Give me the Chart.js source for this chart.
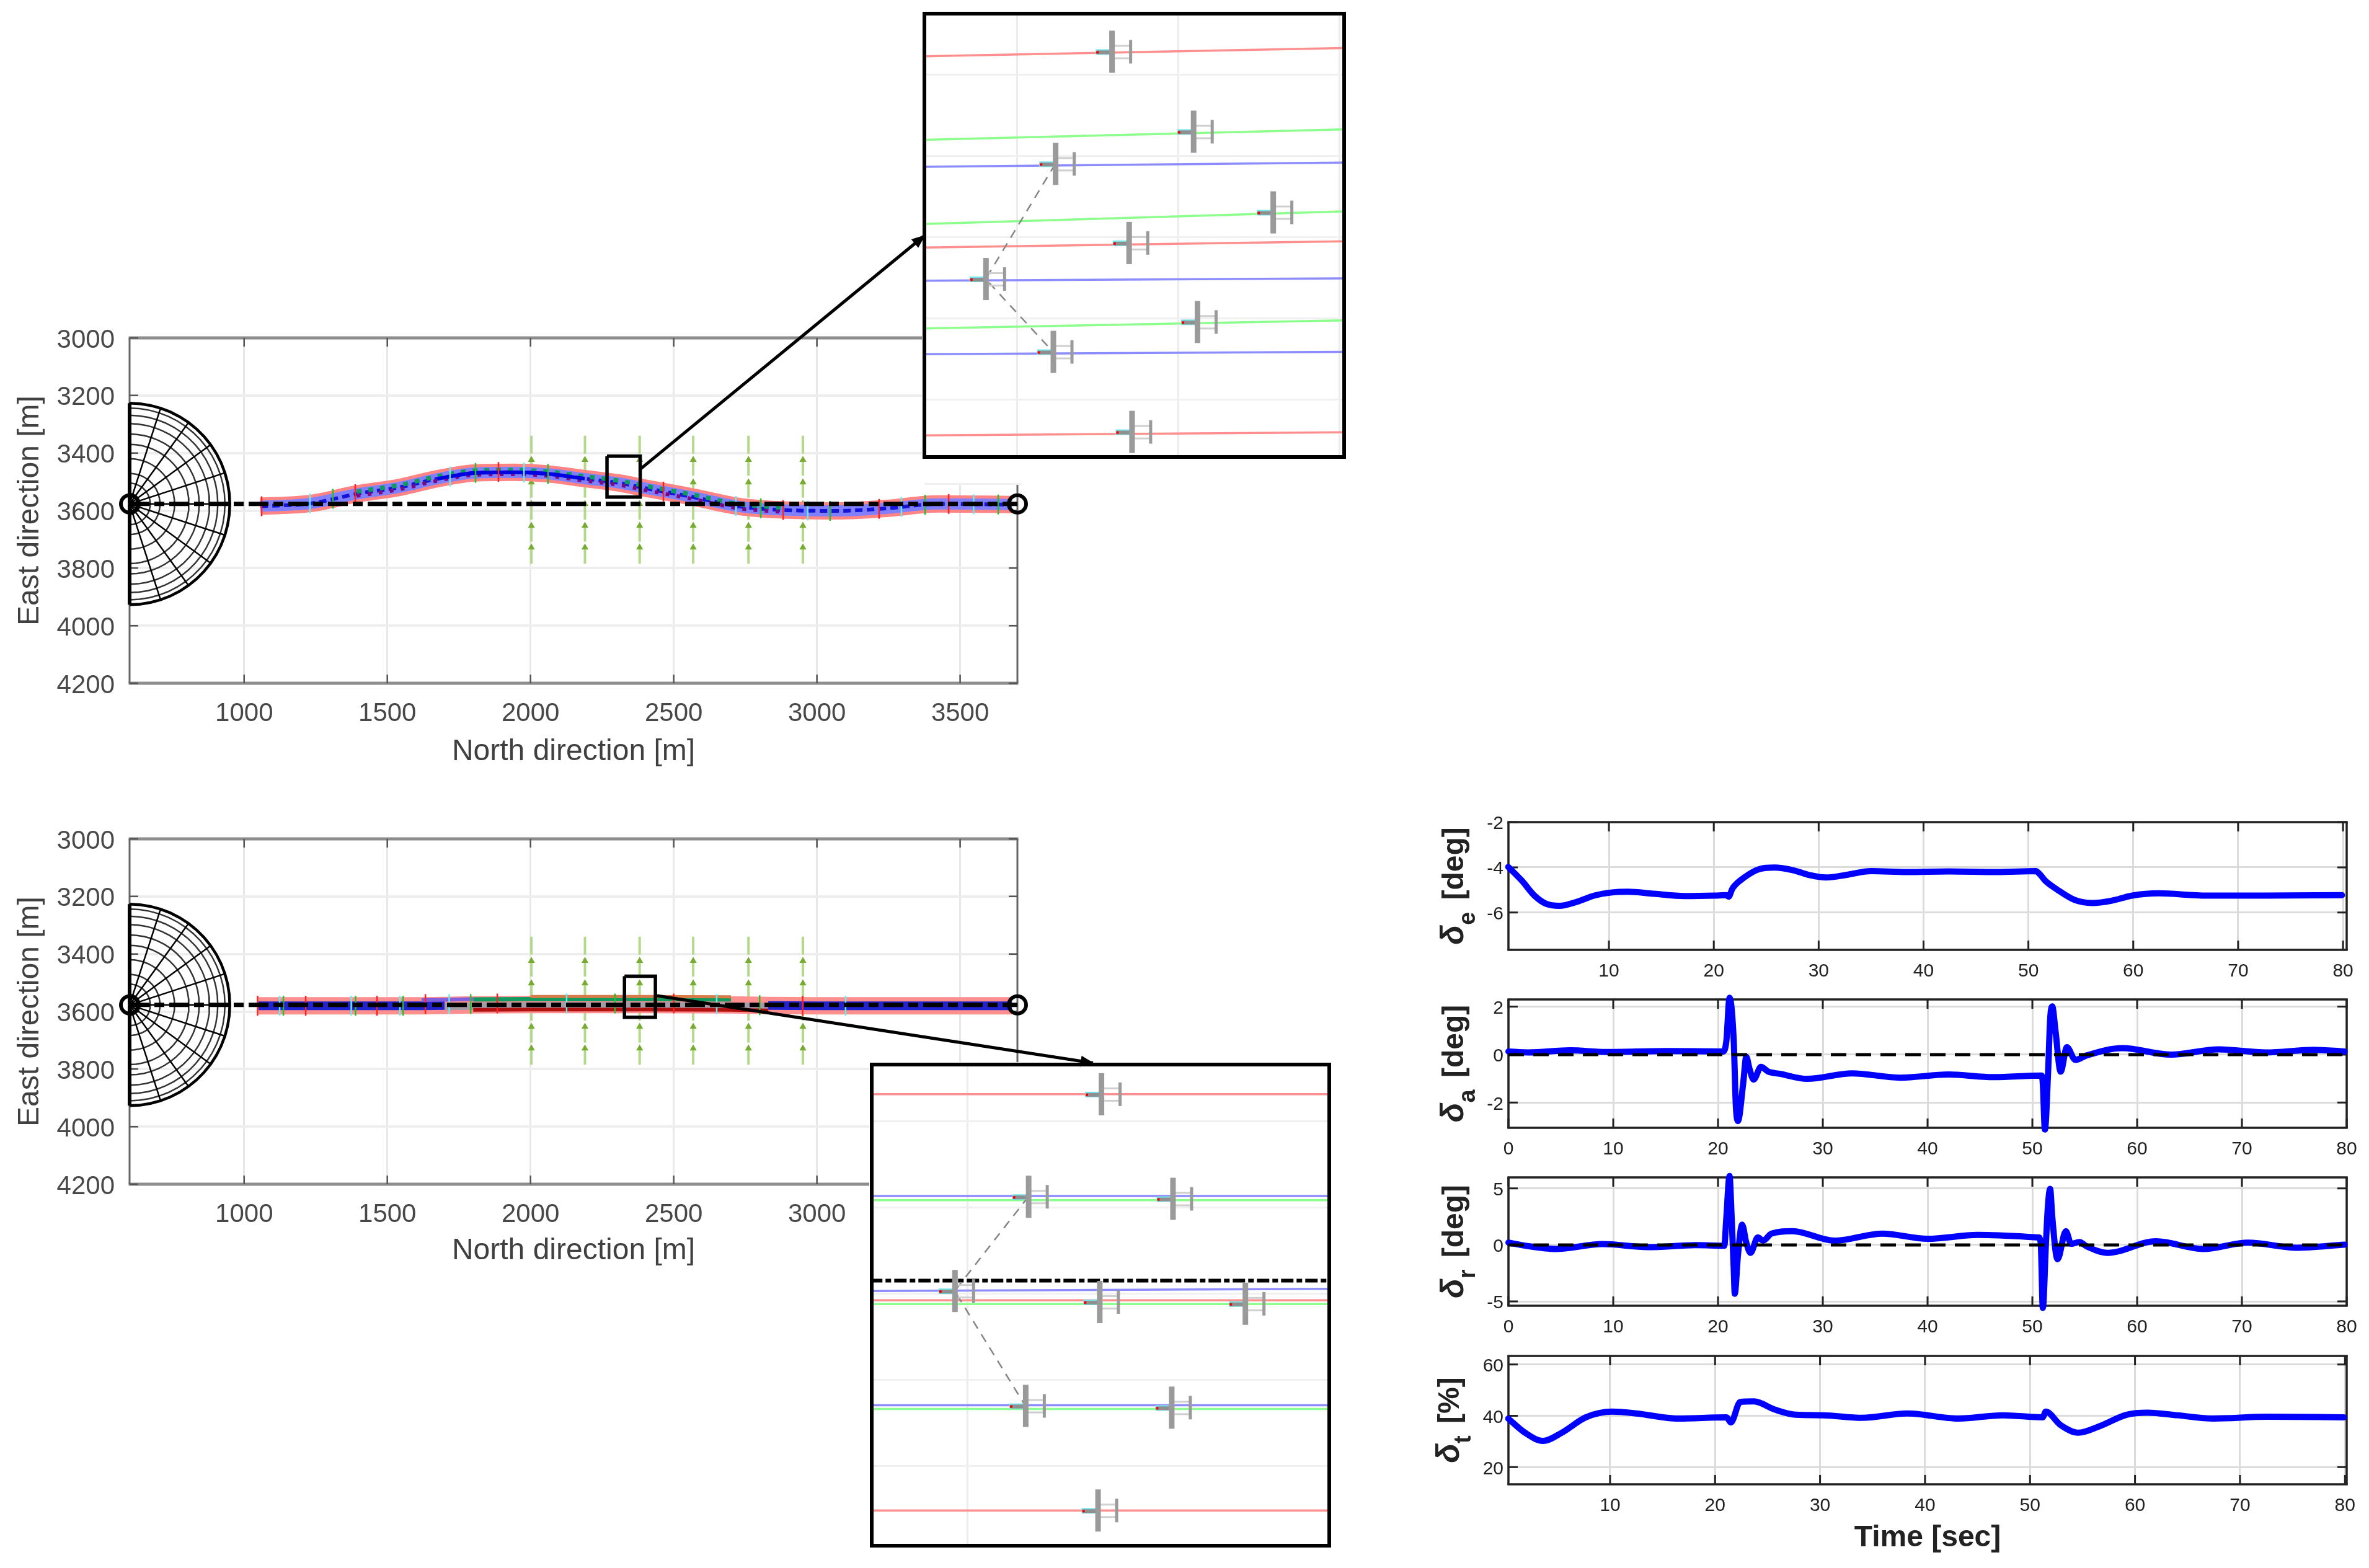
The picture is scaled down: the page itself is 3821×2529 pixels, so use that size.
<!DOCTYPE html>
<html>
<head>
<meta charset="utf-8">
<title>Formation flight</title>
<script src="https://cdn.jsdelivr.net/npm/chart.js@4"></script>
<style>
  html, body { margin: 0; background: #fff; overflow: hidden; }
  body { position: relative; width: 3821px; height: 2529px; }
  canvas, .patch { position: absolute; }
</style>
</head>
<body>
<script>
// map plots
const northTicks = [1000, 1500, 2000, 2500, 3000, 3500];
const eastTicks = [3000, 3200, 3400, 3600, 3800, 4000, 4200];
const lineOfSightNorth = [600, 3700];
const lineOfSightEast = [3577, 3577];
const windNorth = [2003, 2190, 2381, 2568, 2761, 2951];
const windEast = [3340, 3424, 3502, 3577, 3653, 3728, 3790];
const radarRadii = [36, 72, 106, 157, 207, 243, 279, 308, 333, 350];
const radarSpokes = [-90, -72, -54, -36, -18, 0, 18, 36, 54, 72, 90];
const radarSweep = [-90, -84, -78, -72, -66, -60, -54, -48, -42, -36, -30, -24, -18, -12, -6, 0, 6, 12, 18, 24, 30, 36, 42, 48, 54, 60, 66, 72, 78, 84, 90];

// path with the avoidance manoeuvre
const curvedNorth = [1057, 1234, 1393, 1544, 1676, 1808, 1941, 2056, 2189, 2321, 2395, 2568, 2724, 2882, 3072, 3248, 3421, 3681];
const curvedEast = [3585, 3575, 3542, 3519, 3489, 3469, 3467, 3472, 3489, 3506, 3521, 3553, 3585, 3598, 3601, 3592, 3577, 3579];
const curvedMarkNorth = [1061, 1230, 1310, 1388, 1719, 1808, 1888, 1977, 2061, 2464, 2717, 2804, 2882, 2968, 3046, 3217, 3295, 3378, 3460, 3547, 3633];
const curvedMarkEast = [3585, 3575, 3559, 3543, 3482, 3469, 3466, 3468, 3473, 3534, 3584, 3592, 3598, 3600, 3601, 3594, 3587, 3580, 3577, 3578, 3579];
const zoomBoxTopNorth = [2267, 2383, 2383, 2267, 2267];
const zoomBoxTopEast = [3411, 3411, 3553, 3553, 3411];
const arrowTopNorth = [2382, 3375];
const arrowTopEast = [3457, 2645];

// path with the formation change only
const straightNorth = [1050, 1620, 1700, 1800, 2000, 2400, 2700, 2830, 3000, 3200, 3681];
const straightEast = [3580, 3580, 3579, 3577, 3576, 3576, 3577, 3579, 3580, 3580, 3580];
const straightMarkNorth = [1047, 1124, 1137, 1215, 1374, 1389, 1464, 1544, 1555, 1633, 1716, 1791, 1884, 2126, 2295, 2500, 2650, 2800, 2950, 3100];
const straightMarkEast = [3580, 3580, 3580, 3580, 3580, 3580, 3580, 3580, 3580, 3574, 3574, 3574, 3572, 3572, 3572, 3572, 3574, 3578, 3580, 3580];
const zoomBoxBottomNorth = [2328, 2436, 2436, 2328, 2328];
const zoomBoxBottomEast = [3477, 3477, 3620, 3620, 3477];
const arrowBottomNorth = [2442, 3964];
const arrowBottomEast = [3545, 3779];

// zoomed views
const inset1North = [2271, 2401];
const inset1Red = [[3419.4, 3416.9], [3478.2, 3476.3], [3536, 3535]];
const inset1Green = [[3445.1, 3441.9], [3471, 3467.1], [3503.1, 3500.6]];
const inset1Blue = [[3453.4, 3452.1], [3488.4, 3487.7], [3511, 3510.3]];
const inset1PlaneNorth = [2329.4, 2354.7, 2311.9, 2379.4, 2334.7, 2290.3, 2355.9, 2311.2, 2335.6];
const inset1PlaneEast = [3418, 3442.6, 3452.5, 3467.4, 3476.8, 3487.9, 3501.1, 3510.3, 3534.9];
const inset1LinkNorth = [2311.9, 2290.3, 2311.2];
const inset1LinkEast = [3452.5, 3487.9, 3510.3];
const inset1XTicks = [2300, 2350, 2400];
const inset1YTicks = [3425, 3450, 3475, 3500, 3525];

const inset2North = [2327, 2436];
const inset2Red = [[3492.2, 3492.2], [3551.9, 3551.9], [3612.8, 3612.8]];
const inset2Green = [[3522.9, 3522.9], [3553, 3553], [3583.4, 3583.4]];
const inset2Blue = [[3521.7, 3521.7], [3549.2, 3548.6], [3582.3, 3582.3]];
const inset2PlaneNorth = [2381.6, 2364.4, 2398.5, 2347, 2381.2, 2415.6, 2363.7, 2398.2, 2380.8];
const inset2PlaneEast = [3492.2, 3521.9, 3522.5, 3549.2, 3552.4, 3552.9, 3582.5, 3583, 3612.8];
const inset2LinkNorth = [2364.4, 2347, 2363.7];
const inset2LinkEast = [3521.9, 3549.2, 3582.5];
const inset2CenterEast = [3546.2, 3546.2];
const inset2XTicks = [2350];
const inset2YTicks = [3500, 3525, 3550, 3575, 3600];

// control surfaces
const elevatorTime = [0.4, 1.7, 2.9, 4.0, 5.3, 6.9, 8.6, 10.3, 11.8, 14.3, 17.2, 20.1, 21.2, 21.4, 21.8, 22.9, 24.4, 25.8, 27.5, 29.2, 30.7, 32.7, 35.0, 38.4, 42.4, 47.0, 50.7, 51.1, 51.6, 52.7, 54.4, 56.1, 57.9, 59.9, 62.4, 67.0, 72.7, 79.9];
const elevatorDeg = [-3.98, -4.59, -5.25, -5.61, -5.70, -5.53, -5.25, -5.11, -5.08, -5.17, -5.27, -5.25, -5.23, -5.30, -4.92, -4.45, -4.07, -4.01, -4.12, -4.35, -4.45, -4.33, -4.17, -4.21, -4.18, -4.21, -4.17, -4.31, -4.59, -4.97, -5.44, -5.58, -5.48, -5.25, -5.15, -5.25, -5.25, -5.23];
const aileronTime = [0, 1.9, 5.9, 9.3, 15.1, 20.5, 20.8, 21.1, 21.5, 21.7, 21.9, 22.4, 22.7, 23.0, 23.4, 24.1, 24.8, 25.9, 28.5, 32.8, 37.4, 42.0, 46.3, 50.9, 51.0, 51.2, 51.5, 51.7, 51.9, 52.2, 52.7, 53.3, 54.1, 55.2, 58.6, 63.2, 67.8, 72.3, 76.9, 79.8];
const aileronDeg = [0.13, 0.09, 0.18, 0.11, 0.15, 0.13, 0.58, 2.37, 0.58, -2.10, -2.77, -1.21, -0.09, -0.58, -1.04, -0.51, -0.71, -0.80, -1.01, -0.78, -0.96, -0.83, -0.94, -0.87, -1.21, -3.12, -0.76, 1.47, 2.01, 1.03, -0.71, 0.31, -0.22, -0.03, 0.27, 0, 0.22, 0.09, 0.2, 0.13];
const rudderTime = [0, 1.6, 4.5, 9.0, 13.3, 17.9, 20.6, 20.8, 21.1, 21.3, 21.5, 21.6, 21.9, 22.3, 22.7, 23.1, 23.8, 24.3, 25.1, 27.1, 31.1, 35.7, 40.0, 44.8, 50.6, 50.8, 51.0, 51.3, 51.5, 51.7, 51.9, 52.4, 53.2, 53.7, 54.5, 55.2, 57.2, 61.8, 66.3, 70.6, 75.2, 79.8];
const rudderDeg = [0.2, -0.07, -0.36, 0.07, -0.2, -0.02, -0.07, 2.47, 6.09, 2.47, -2.06, -4.32, -0.93, 1.79, 0.2, -0.7, 0.66, 0.38, 1.0, 1.22, 0.38, 1, 0.54, 0.88, 0.66, 0.2, -5.57, 0.2, 3.6, 4.95, 2.47, -1.27, 1.22, 0.09, 0.25, -0.14, -0.7, 0.32, -0.36, 0.2, -0.25, 0.02];
const throttleTime = [0.3, 1.9, 3.6, 5.4, 7.7, 10.2, 12.5, 16.5, 21.1, 21.5, 22.4, 23.7, 25.7, 27.7, 30.3, 34, 38.3, 43.2, 47.4, 51.2, 51.5, 52.9, 54.6, 56.6, 59.2, 61.2, 64, 67.5, 72.6, 79.9];
const throttlePct = [38.9, 33.4, 30.2, 33.4, 39.4, 41.6, 40.9, 38.9, 39.4, 37.4, 45.4, 45.6, 42.4, 40.4, 40.2, 39.2, 40.9, 38.9, 40.2, 39.4, 41.6, 36.4, 33.4, 35.9, 40.4, 41.2, 40.2, 38.9, 39.6, 39.4];
const timeTicks = [0, 10, 20, 30, 40, 50, 60, 70, 80];

Chart.defaults.font.family = '"Liberation Sans", Arial, sans-serif';
Chart.defaults.animation = false;
Chart.defaults.layout.autoPadding = false;

const xy = (xs, ys) => xs.map((x, i) => ({ x, y: ys[i] }));
const asTicks = (values) => (scale) => { scale.ticks = values.map((value) => ({ value })); };
const plainLabel = (value) => String(value);

function track(xs, ys, color, width, extra) {
  return Object.assign({
    data: xy(xs, ys),
    showLine: true,
    borderColor: color,
    borderWidth: width,
    pointRadius: 0,
    clip: false,
    borderCapStyle: "butt"
  }, extra);
}

function addCanvas(left, top, width, height) {
  const c = document.createElement("canvas");
  c.width = width;
  c.height = height;
  c.style.left = left + "px";
  c.style.top = top + "px";
  document.body.appendChild(c);
  return c;
}

// box and inward ticks, matlab style
function boxFrame(opt) {
  return {
    id: "boxFrame",
    [opt.onTop ? "afterDatasetsDraw" : "beforeDatasetsDraw"](chart) {
      const { ctx, chartArea: a, scales } = chart;
      ctx.save();
      ctx.lineCap = "butt";
      ctx.strokeStyle = opt.hColor;
      ctx.lineWidth = opt.hWidth;
      ctx.beginPath();
      ctx.moveTo(a.left - opt.vWidth / 2, a.top); ctx.lineTo(a.right + opt.vWidth / 2, a.top);
      ctx.moveTo(a.left - opt.vWidth / 2, a.bottom); ctx.lineTo(a.right + opt.vWidth / 2, a.bottom);
      ctx.stroke();
      ctx.strokeStyle = opt.vColor;
      ctx.lineWidth = opt.vWidth;
      ctx.beginPath();
      ctx.moveTo(a.left, a.top); ctx.lineTo(a.left, a.bottom);
      ctx.moveTo(a.right, a.top); ctx.lineTo(a.right, a.bottom);
      ctx.stroke();
      if (opt.tickLength) {
        ctx.strokeStyle = opt.tickColor;
        ctx.lineWidth = opt.tickWidth;
        ctx.beginPath();
        scales.x.ticks.forEach((t) => {
          const px = scales.x.getPixelForValue(t.value);
          ctx.moveTo(px, a.top); ctx.lineTo(px, a.top + opt.tickLength);
          ctx.moveTo(px, a.bottom); ctx.lineTo(px, a.bottom - opt.tickLength);
        });
        scales.y.ticks.forEach((t) => {
          const py = scales.y.getPixelForValue(t.value);
          ctx.moveTo(a.left, py); ctx.lineTo(a.left + opt.tickLength, py);
          ctx.moveTo(a.right, py); ctx.lineTo(a.right - opt.tickLength, py);
        });
        ctx.stroke();
      }
      ctx.restore();
    }
  };
}

// head of the callout arrows, these sit outside the chart area
const arrowTips = {
  id: "arrowTips",
  afterDatasetsDraw(chart) {
    const { ctx, scales } = chart;
    chart.data.datasets.forEach((ds) => {
      const a = ds.data[0], b = ds.data[1];
      const x1 = scales.x.getPixelForValue(a.x), y1 = scales.y.getPixelForValue(a.y);
      const x2 = scales.x.getPixelForValue(b.x), y2 = scales.y.getPixelForValue(b.y);
      ctx.save();
      ctx.translate(x2, y2);
      ctx.rotate(Math.atan2(y2 - y1, x2 - x1));
      ctx.fillStyle = "#000";
      ctx.beginPath();
      ctx.moveTo(2, 0); ctx.lineTo(-20, -9); ctx.lineTo(-20, 9);
      ctx.closePath();
      ctx.fill();
      ctx.restore();
    });
  }
};

function radarMesh() {
  const out = [];
  radarRadii.forEach((r, i) => {
    const last = i === radarRadii.length - 1;
    out.push(track(
      radarSweep.map((d) => 600 + r * Math.cos(d * Math.PI / 180)),
      radarSweep.map((d) => 3577 + r * Math.sin(d * Math.PI / 180)),
      last ? "#000" : "#333", last ? 4.5 : 2.5));
  });
  radarSpokes.forEach((d) => {
    const edge = Math.abs(d) === 90;
    out.push(track(
      [600, 600 + 350 * Math.cos(d * Math.PI / 180)],
      [3577, 3577 + 350 * Math.sin(d * Math.PI / 180)],
      "#000", edge ? 6 : 2.5));
  });
  return out;
}

function windField() {
  return windNorth.map((n) => track(windEast.map(() => n), windEast, "#b5d98a", 4, {
    borderDash: [29, 6.5],
    pointRadius: windEast.map((e, i) => (i === 0 || i === windEast.length - 1 ? 0 : 2.5)),
    pointStyle: "triangle",
    pointBackgroundColor: "#78ab32",
    pointBorderColor: "#78ab32"
  }));
}

function wingMarks(xs, ys) {
  const cycle = ["#ff2020", "#66eeee", "#25c025"];
  return track(xs, ys, "rgba(0,0,0,0)", 0, {
    showLine: false,
    pointStyle: "line",
    pointRotation: 90,
    pointRadius: 16,
    pointBorderWidth: 2.5,
    pointBorderColor: xs.map((_, i) => cycle[i % 3])
  });
}

function mapPlot(box, bandSets, zoomBoxX, zoomBoxY) {
  const canvas = addCanvas(0, box.canvasTop, box.canvasWidth, box.canvasBottom - box.canvasTop);
  const layers = [
    ...windField(),
    ...bandSets,
    ...radarMesh(),
    track(lineOfSightNorth, lineOfSightEast, "#000", 7, { borderDash: [32, 8, 16, 8] }),
    track(lineOfSightNorth, lineOfSightEast, "rgba(0,0,0,0)", 0, {
      showLine: false,
      pointRadius: 14,
      pointBorderWidth: 6,
      pointBorderColor: "#000",
      pointBackgroundColor: "rgba(0,0,0,0)"
    }),
    track(zoomBoxX, zoomBoxY, "#000", 5.5, { borderJoinStyle: "miter" })
  ];
  return new Chart(canvas, {
    type: "scatter",
    data: { datasets: layers.reverse() },
    plugins: [boxFrame({
      hColor: "#8c8c8c", hWidth: 5, vColor: "#666", vWidth: 3,
      tickLength: 14, tickColor: "#555", tickWidth: 2.5
    })],
    options: {
      responsive: false,
      devicePixelRatio: 1,
      events: [],
      layout: {
        padding: {
          left: 0,
          top: box.top - box.canvasTop,
          right: box.canvasWidth - box.right,
          bottom: 0
        }
      },
      plugins: { legend: { display: false }, tooltip: { enabled: false } },
      scales: {
        x: {
          type: "linear", min: 600, max: 3700,
          afterBuildTicks: asTicks(northTicks),
          afterFit: (s) => { s.height = box.canvasBottom - box.bottom; },
          border: { display: false },
          grid: { color: "#e8e8e8", lineWidth: 3, drawTicks: false },
          ticks: { color: "#484848", font: { size: 42 }, padding: 24, maxRotation: 0, autoSkip: false, callback: plainLabel },
          title: { display: true, text: "North direction [m]", color: "#404040", font: { size: 48 }, padding: 0 }
        },
        y: {
          type: "linear", reverse: true, min: 3000, max: 4200,
          afterBuildTicks: asTicks(eastTicks),
          afterFit: (s) => { s.width = box.left; },
          border: { display: false },
          grid: { color: "#eeeeee", lineWidth: 4, drawTicks: false },
          ticks: { color: "#484848", font: { size: 42 }, padding: 24, labelOffset: 4, autoSkip: false, callback: plainLabel },
          title: { display: true, text: "East direction [m]", color: "#404040", font: { size: 48 }, padding: { top: 20, bottom: 0 } }
        }
      }
    }
  });
}

// callout arrow goes over the zoomed views, so it gets its own layer with the map scales
function calloutArrow(box, xs, ys) {
  const canvas = addCanvas(0, box.canvasTop, box.canvasWidth, box.canvasBottom - box.canvasTop);
  return new Chart(canvas, {
    type: "scatter",
    data: { datasets: [track(xs, ys, "#000", 5)] },
    plugins: [arrowTips],
    options: {
      responsive: false,
      devicePixelRatio: 1,
      events: [],
      layout: {
        padding: {
          left: box.left,
          top: box.top - box.canvasTop,
          right: box.canvasWidth - box.right,
          bottom: box.canvasBottom - box.bottom
        }
      },
      plugins: { legend: { display: false }, tooltip: { enabled: false } },
      scales: {
        x: { type: "linear", min: 600, max: 3700, display: false },
        y: { type: "linear", reverse: true, min: 3000, max: 4200, display: false }
      }
    }
  });
}

// little aeroplane, used as the point image in the zoomed views
function planeGlyph() {
  const c = document.createElement("canvas");
  c.width = 90;
  c.height = 84;
  const g = c.getContext("2d");
  const cx = 45, cy = 42;
  g.fillStyle = "#cfcfcf";
  g.fillRect(cx + 4, cy - 11, 26, 3);
  g.fillRect(cx + 4, cy + 9, 26, 3);
  g.fillStyle = "#77e4ea";
  g.fillRect(cx - 26, cy - 4, 22, 9);
  g.fillStyle = "#8f8f8f";
  g.fillRect(cx - 24, cy - 2, 24, 6);
  g.fillStyle = "#9a9a9a";
  g.fillRect(cx - 4, cy - 34, 9, 68);
  g.fillRect(cx + 28, cy - 19, 5, 38);
  g.fillStyle = "#f00000";
  g.fillRect(cx - 25, cy - 1, 4, 4);
  return c;
}

function insetPlot(box, lines, planeX, planeY, linkX, linkY, xTicks, yTicks, xMin, xMax, yMin, yMax, extra) {
  const canvas = addCanvas(box.left - 4, box.top - 4, box.right - box.left + 8, box.bottom - box.top + 8);
  const glyph = planeGlyph();
  const layers = [
    ...lines,
    ...extra,
    track(linkX, linkY, "#858585", 2.5, { borderDash: [14, 11], clip: true }),
    track(planeX, planeY, "rgba(0,0,0,0)", 0, { showLine: false, pointRadius: 10, pointStyle: glyph })
  ];
  return new Chart(canvas, {
    type: "scatter",
    data: { datasets: layers.reverse() },
    plugins: [
      { id: "whiteBack", beforeDraw: (chart) => { chart.ctx.fillStyle = "#fff"; chart.ctx.fillRect(0, 0, chart.width, chart.height); } },
      boxFrame({ onTop: true, hColor: "#000", hWidth: 6, vColor: "#000", vWidth: 6 })
    ],
    options: {
      responsive: false,
      devicePixelRatio: 1,
      events: [],
      layout: { padding: { left: 4, top: 4, right: 4, bottom: 4 } },
      plugins: { legend: { display: false }, tooltip: { enabled: false } },
      scales: {
        x: {
          type: "linear", min: xMin, max: xMax,
          afterBuildTicks: asTicks(xTicks),
          afterFit: (s) => { s.height = 0; },
          border: { display: false },
          grid: { color: "#ececec", lineWidth: 3, drawTicks: false },
          ticks: { display: false }
        },
        y: {
          type: "linear", reverse: true, min: yMin, max: yMax,
          afterBuildTicks: asTicks(yTicks),
          afterFit: (s) => { s.width = 0; },
          border: { display: false },
          grid: { color: "#f0f0f0", lineWidth: 3, drawTicks: false },
          ticks: { display: false }
        }
      }
    }
  });
}

function insetLines(xs, red, green, blue) {
  return [
    ...red.map((ys) => track(xs, ys, "#ff8f8f", 3.5, { clip: true })),
    ...green.map((ys) => track(xs, ys, "#8cff8c", 3.5, { clip: true })),
    ...blue.map((ys) => track(xs, ys, "#8c8cff", 3.5, { clip: true }))
  ];
}

// rotated y label with a subscript, drawn in pieces
function subscriptLabel(sub, rest, centerX) {
  return {
    id: "subscriptLabel",
    afterDraw(chart) {
      const { ctx, chartArea: a } = chart;
      const parts = [
        { text: "δ", font: 'italic bold 52px "Liberation Sans"', dy: 0 },
        { text: sub, font: 'bold 38px "Liberation Sans"', dy: 19 },
        { text: " " + rest, font: 'bold 48px "Liberation Sans"', dy: 0, gap: 6 }
      ];
      let total = 0;
      parts.forEach((p) => { ctx.font = p.font; total += ctx.measureText(p.text).width + (p.gap || 0); });
      ctx.save();
      ctx.translate(centerX, (a.top + a.bottom) / 2);
      ctx.rotate(-Math.PI / 2);
      ctx.fillStyle = "#222";
      ctx.textBaseline = "alphabetic";
      let at = -total / 2;
      parts.forEach((p) => {
        ctx.font = p.font;
        at += p.gap || 0;
        ctx.fillText(p.text, at, p.dy);
        at += ctx.measureText(p.text).width;
      });
      ctx.restore();
    }
  };
}

function controlPlot(box, times, values, xMin, xMax, yMin, yMax, yTicks, xTickValues, sub, rest, labelX, showZero, xTitle) {
  const cLeft = 2300, cRight = 3821, cTop = box.top - 40;
  const cBottom = xTitle ? 2510 : box.bottom + 50;
  const canvas = addCanvas(cLeft, cTop, cRight - cLeft, cBottom - cTop);
  const layers = [
    track(times, values, "#0000ff", 10, { cubicInterpolationMode: "monotone", borderJoinStyle: "round", borderCapStyle: "round" })
  ];
  if (showZero) {
    layers.push(track([xMin, xMax], [0, 0], "#000", 5, { borderDash: [25, 15] }));
  }
  return new Chart(canvas, {
    type: "scatter",
    data: { datasets: layers.reverse() },
    plugins: [boxFrame({
      hColor: "#222", hWidth: 3.5, vColor: "#222", vWidth: 3.5,
      tickLength: 15, tickColor: "#222", tickWidth: 3
    }), subscriptLabel(sub, rest, labelX - cLeft)],
    options: {
      responsive: false,
      devicePixelRatio: 1,
      events: [],
      layout: { padding: { left: 0, top: box.top - cTop, right: cRight - box.right, bottom: 0 } },
      plugins: { legend: { display: false }, tooltip: { enabled: false } },
      scales: {
        x: {
          type: "linear", min: xMin, max: xMax,
          afterBuildTicks: asTicks(xTickValues),
          afterFit: (s) => { s.height = cBottom - box.bottom; },
          border: { display: false },
          grid: { color: "#dcdcdc", lineWidth: 3, drawTicks: false },
          ticks: { color: "#222", font: { size: 30 }, padding: 17, maxRotation: 0, autoSkip: false, callback: plainLabel },
          title: xTitle
            ? { display: true, text: xTitle, color: "#222", font: { size: 48, weight: "bold" }, padding: 0 }
            : { display: false }
        },
        y: {
          type: "linear", min: yMin, max: yMax,
          afterBuildTicks: asTicks(yTicks),
          afterFit: (s) => { s.width = box.left - cLeft; },
          border: { display: false },
          grid: { color: "#dcdcdc", lineWidth: 3, drawTicks: false },
          ticks: { color: "#222", font: { size: 30 }, padding: 8, labelOffset: 3, autoSkip: false, callback: plainLabel }
        }
      }
    }
  });
}

// bands of the two map plots, painted bottom to top
const smooth = { cubicInterpolationMode: "monotone" };
const curvedBands = [
  track(curvedNorth, curvedEast, "#ff8484", 28, smooth),
  track(curvedNorth, curvedEast, "#8080ff", 18, smooth),
  track(curvedNorth, curvedEast, "#1414d8", 6, { ...smooth, borderDash: [12, 7] }),
  track(curvedNorth.slice(2, 14), curvedEast.slice(2, 14).map((e) => e - 8), "#109a60", 7, { ...smooth, borderDash: [8, 11] }),
  track(curvedNorth.slice(2, 14), curvedEast.slice(2, 14).map((e) => e + 7), "#7a0a80", 6, { ...smooth, borderDash: [6, 12] }),
  track(curvedNorth.slice(4, 9), curvedEast.slice(4, 9), "#0000e0", 6, smooth),
  wingMarks(curvedMarkNorth, curvedMarkEast)
];
const straightBands = [
  track(straightNorth, straightEast, "#ff8f8f", 28, smooth),
  track(straightNorth.slice(0, 3), straightEast.slice(0, 3), "#2222d0", 14),
  track(straightNorth.slice(7), straightEast.slice(7), "#2222d0", 14),
  track(straightNorth.slice(2, 8), straightEast.slice(2, 8).map((e) => e + 4), "#a79aa8", 12),
  track(straightNorth.slice(1, 4), straightEast.slice(1, 4).map((e) => e - 20), "#8060e0", 6),
  track(straightNorth.slice(3, 7), straightEast.slice(3, 7).map((e) => e - 19), "#109a60", 7),
  track(straightNorth.slice(4, 7), straightEast.slice(4, 7).map((e) => e - 28), "#d87c4a", 5),
  track(straightNorth.slice(3, 8), straightEast.slice(3, 8).map((e) => e + 17), "#b01010", 6),
  wingMarks(straightMarkNorth, straightMarkEast)
];

const topMap = { left: 209, right: 1641, top: 545, bottom: 1102, canvasTop: 300, canvasBottom: 1242, canvasWidth: 1720 };
const bottomMap = { left: 209, right: 1641, top: 1353, bottom: 1910, canvasTop: 1290, canvasBottom: 2047, canvasWidth: 1800 };

mapPlot(topMap, curvedBands, zoomBoxTopNorth, zoomBoxTopEast);
mapPlot(bottomMap, straightBands, zoomBoxBottomNorth, zoomBoxBottomEast);

// white patch left under the first zoomed view in the source figure
const patch = document.createElement("div");
patch.className = "patch";
patch.style.cssText = "left:1491px;top:737px;width:156px;height:42px;background:#fff;border-bottom:3px solid #f0f0f0;";
document.body.appendChild(patch);

insetPlot({ left: 1491, right: 2168, top: 22, bottom: 737 },
  insetLines(inset1North, inset1Red, inset1Green, inset1Blue),
  inset1PlaneNorth, inset1PlaneEast, inset1LinkNorth, inset1LinkEast,
  inset1XTicks, inset1YTicks, 2271.3, 2401.5, 3406.3, 3542.6, []);
insetPlot({ left: 1406, right: 2144, top: 1717, bottom: 2493 },
  insetLines(inset2North, inset2Red, inset2Green, inset2Blue),
  inset2PlaneNorth, inset2PlaneEast, inset2LinkNorth, inset2LinkEast,
  inset2XTicks, inset2YTicks, 2327.4, 2435.5, 3483.6, 3623,
  [track(inset2North, inset2CenterEast, "#000", 6, { borderDash: [20, 5, 9, 5], clip: true })]);

calloutArrow(topMap, arrowTopNorth, arrowTopEast);
calloutArrow(bottomMap, arrowBottomNorth, arrowBottomEast);

controlPlot({ left: 2433, right: 3785, top: 1326, bottom: 1532 }, elevatorTime, elevatorDeg,
  0.42, 80.35, -7.65, -2, [-6, -4, -2], timeTicks.slice(1), "e", "[deg]", 2360, false);
controlPlot({ left: 2433, right: 3785, top: 1612, bottom: 1819 }, aileronTime, aileronDeg,
  0, 80, -3.05, 2.3, [-2, 0, 2], timeTicks, "a", "[deg]", 2360, true);
controlPlot({ left: 2433, right: 3785, top: 1899, bottom: 2106 }, rudderTime, rudderDeg,
  0, 80, -5.38, 5.97, [-5, 0, 5], timeTicks, "r", "[deg]", 2360, true);
controlPlot({ left: 2433, right: 3785, top: 2187, bottom: 2394 }, throttleTime, throttlePct,
  0.32, 80.16, 13.3, 63.3, [20, 40, 60], timeTicks.slice(1), "t", "[%]", 2353, false, "Time [sec]");
</script>
</body>
</html>
